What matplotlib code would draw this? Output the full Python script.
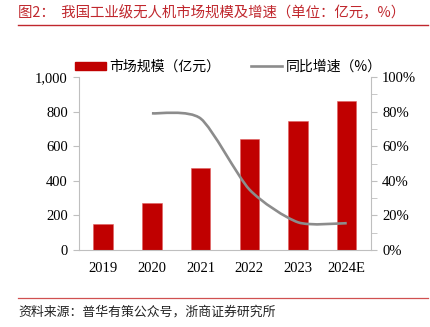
import matplotlib.pyplot as plt
from matplotlib.path import Path
from matplotlib.patches import PathPatch, Patch
from matplotlib.lines import Line2D
from matplotlib.ticker import FuncFormatter, MultipleLocator

plt.rcParams['font.family'] = ['Liberation Serif', 'Noto Sans CJK SC']

years = ['2019', '2020', '2021', '2022', '2023', '2024E']
market = [150, 272, 475, 642, 745, 860]
growth_years = [1, 2, 3, 4, 5]
growth = [79, 76, 35, 16, 15.5]

red = '#C00000'
grey = '#8C8C8C'
axis_grey = '#BFBFBF'

fig = plt.figure(figsize=(4.31, 3.27), dpi=100)
ax = fig.add_axes([0.183, 0.2355, 0.678, 0.529])
ax2 = ax.twinx()

x = range(len(years))
ax.bar(x, market, width=0.4, color=red, edgecolor='#E06060', linewidth=0.4, zorder=2)
ax.set_xlim(-0.5, len(years) - 0.5)
ax.set_ylim(0, 1000)
ax.yaxis.set_major_locator(MultipleLocator(200))
ax.yaxis.set_major_formatter(FuncFormatter(lambda v, p: f'{int(v):,}'))
ax.set_xticks(list(x))
ax.set_xticklabels(years)
ax.tick_params(axis='x', length=0, pad=9, labelsize=10.5)
ax.tick_params(axis='y', length=4, color=axis_grey, labelsize=10.5, pad=4)

ax2.set_ylim(0, 100)
ax2.yaxis.set_major_locator(MultipleLocator(20))
ax2.yaxis.set_minor_locator(MultipleLocator(10))
ax2.yaxis.set_major_formatter(FuncFormatter(lambda v, p: f'{int(v)}%'))
ax2.tick_params(axis='y', which='both', length=4, color=axis_grey, labelsize=10.5, pad=4)

for a in (ax, ax2):
    a.spines['top'].set_visible(False)
    for s in ('left', 'right', 'bottom'):
        a.spines[s].set_color(axis_grey)
ax.spines['right'].set_visible(False)
ax2.spines['left'].set_visible(False)
ax2.spines['bottom'].set_visible(False)

# smooth line through the data points (Bezier, low tension)
pts = list(zip(growth_years, growth))
verts = [pts[0]]
codes = [Path.MOVETO]
t = 0.12
for i in range(len(pts) - 1):
    p0 = pts[i - 1] if i > 0 else pts[i]
    p1 = pts[i]
    p2 = pts[i + 1]
    p3 = pts[i + 2] if i + 2 < len(pts) else pts[i + 1]
    c1 = (p1[0] + (p2[0] - p0[0]) * t, p1[1] + (p2[1] - p0[1]) * t)
    c2 = (p2[0] - (p3[0] - p1[0]) * t, p2[1] - (p3[1] - p1[1]) * t)
    verts += [c1, c2, p2]
    codes += [Path.CURVE4] * 3
ax2.add_patch(PathPatch(Path(verts, codes), facecolor='none', edgecolor=grey,
                        linewidth=1.9, capstyle='butt', zorder=3))

handles = [Patch(facecolor=red, edgecolor=red),
           Line2D([0], [0], color=grey, linewidth=1.9)]
labels = ['市场规模（亿元）', '同比增速（%）']
fig.legend(handles, labels, loc='center left', bbox_to_anchor=(0.145, 0.795),
           ncol=2, frameon=False, handlelength=2.2, handleheight=0.55,
           columnspacing=2.2, handletextpad=0.3,
           prop={'family': ['Noto Sans CJK SC'], 'size': 10})

fig.text(0.042, 0.962, '图2：  我国工业级无人机市场规模及增速（单位：亿元，%）',
         color='#C0272D', fontsize=10.4, va='center', family=['Noto Sans CJK SC'])
fig.add_artist(Line2D([0.042, 0.993], [0.924, 0.924], color='#C0272D', linewidth=1.0))
fig.add_artist(Line2D([0.042, 0.993], [0.089, 0.089], color='#D05050', linewidth=0.9))
fig.text(0.042, 0.045, '资料来源：普华有策公众号，浙商证券研究所',
         color='#222222', fontsize=9.3, va='center', family=['Noto Sans CJK SC'])

fig.savefig('out.png', dpi=100)
